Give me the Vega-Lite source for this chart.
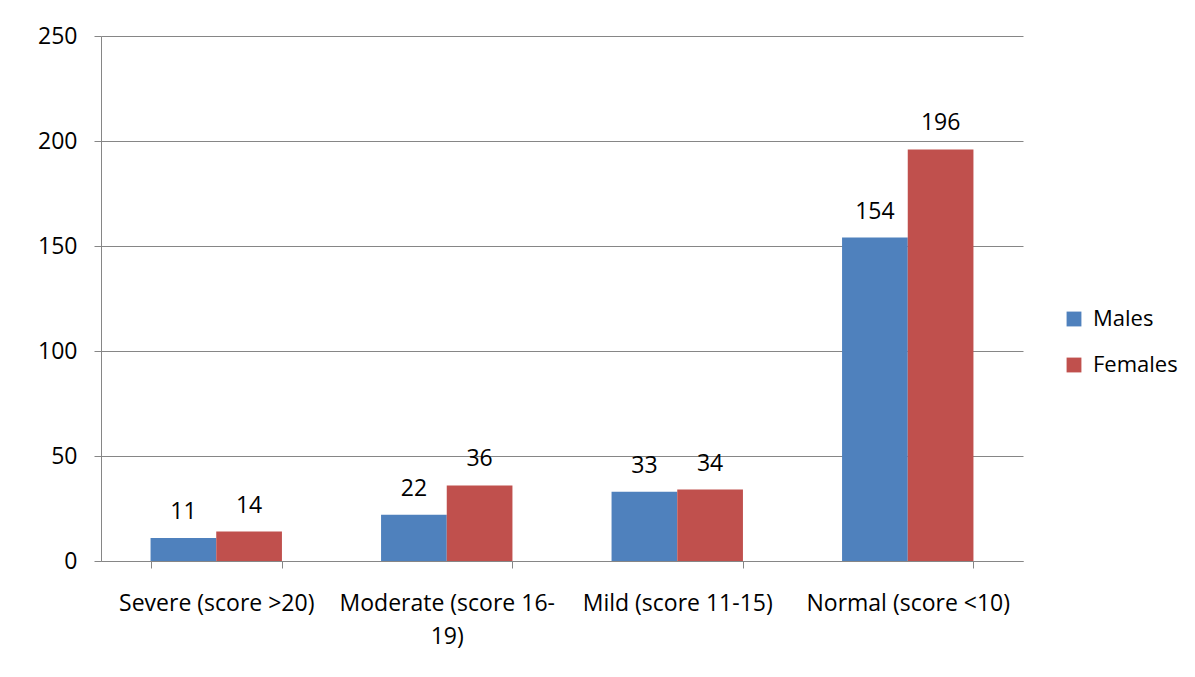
{
  "$schema": "https://vega.github.io/schema/vega-lite/v6.json",
  "autosize": {"type": "none"},
  "width": 922,
  "height": 525,
  "padding": {"left": 101, "top": 36, "right": 172, "bottom": 116},
  "background": "white",
  "data": {"values": [
    {"category": "Severe (score >20)", "sex": "Males", "value": 11},
    {"category": "Severe (score >20)", "sex": "Females", "value": 14},
    {"category": "Moderate (score 16-19)", "sex": "Males", "value": 22},
    {"category": "Moderate (score 16-19)", "sex": "Females", "value": 36},
    {"category": "Mild (score 11-15)", "sex": "Males", "value": 33},
    {"category": "Mild (score 11-15)", "sex": "Females", "value": 34},
    {"category": "Normal (score <10)", "sex": "Males", "value": 154},
    {"category": "Normal (score <10)", "sex": "Females", "value": 196}
  ]},
  "encoding": {
    "x": {
      "field": "category", "type": "nominal", "sort": null,
      "scale": {"paddingInner": 0.43, "paddingOuter": 0.215},
      "axis": {
        "title": null, "labelAngle": 0, "tickBand": "extent", "labelLimit": 0,
        "labelFont": "Open Sans", "labelFontSize": 23, "labelColor": "#000000",
        "labelPadding": 35, "tickSize": 7, "tickColor": "#868686", "domainColor": "#868686",
        "labelLineHeight": 33, "labelBaseline": "middle",
        "labelExpr": "datum.label == 'Moderate (score 16-19)' ? ['Moderate (score 16-', '19)'] : datum.label"
      }
    },
    "xOffset": {"field": "sex", "type": "nominal", "sort": ["Males", "Females"]},
    "y": {
      "field": "value", "type": "quantitative",
      "scale": {"domain": [0, 250]},
      "axis": {
        "title": null, "values": [0, 50, 100, 150, 200, 250],
        "labelFont": "Open Sans", "labelFontSize": 23, "labelColor": "#000000",
        "labelPadding": 17, "tickSize": 7, "tickColor": "#868686", "domainColor": "#868686",
        "gridColor": "#868686", "grid": true
      }
    }
  },
  "layer": [
    {
      "mark": {"type": "bar"},
      "encoding": {
        "color": {
          "field": "sex", "type": "nominal",
          "scale": {"domain": ["Males", "Females"], "range": ["#4F81BD", "#C0504D"]},
          "legend": {
            "title": null, "orient": "none", "legendX": 962, "legendY": 272,
            "symbolType": "square", "symbolSize": 220, "symbolStrokeWidth": 0,
            "labelFont": "Open Sans", "labelFontSize": 22, "labelColor": "#000000",
            "rowPadding": 24, "labelOffset": 8
          }
        }
      }
    },
    {
      "mark": {"type": "text", "dy": -26, "font": "Open Sans", "fontSize": 23, "color": "#000000"},
      "encoding": {"text": {"field": "value", "type": "quantitative"}}
    }
  ],
  "config": {"view": {"stroke": null}}
}
